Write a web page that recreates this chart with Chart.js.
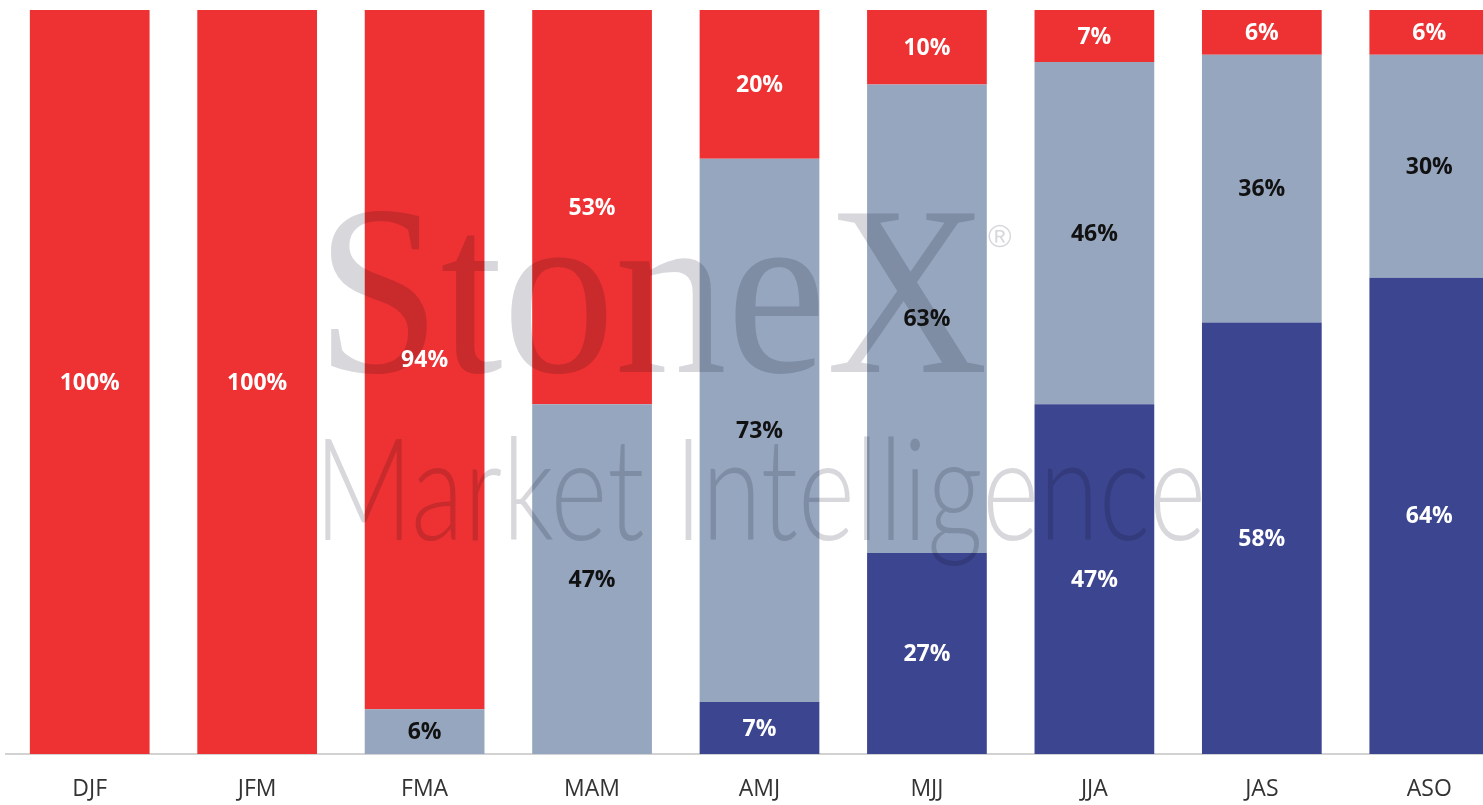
<!DOCTYPE html>
<html>
<head>
<meta charset="utf-8">
<script src="https://cdn.jsdelivr.net/npm/chart.js@4.4.1/dist/chart.umd.min.js"></script>
<style>
  html, body { margin: 0; padding: 0; background: #ffffff; overflow: hidden; }
  #wrap { width: 1483px; height: 805px; overflow: hidden; position: relative; }
  canvas { display: block; }
</style>
</head>
<body>
<div id="wrap"><canvas id="c" width="1513" height="805"></canvas></div>
<script>
const categories = ['DJF', 'JFM', 'FMA', 'MAM', 'AMJ', 'MJJ', 'JJA', 'JAS', 'ASO'];
const darkBlueValues = [0, 0, 0, 0, 7, 27, 47, 58, 64];
const greyBlueValues = [0, 0, 6, 47, 73, 63, 46, 36, 30];
const redValues      = [100, 100, 94, 53, 20, 10, 7, 6, 6];

const labelColors = ['#ffffff', '#111111', '#ffffff'];

const watermarkPlugin = {
  id: 'watermark',
  afterDatasetsDraw(chart) {
    const ctx = chart.ctx;
    ctx.save();
    ctx.globalCompositeOperation = 'multiply';
    ctx.fillStyle = 'rgb(216,216,220)';
    ctx.textAlign = 'left';
    ctx.textBaseline = 'alphabetic';
    ctx.font = '242px "Liberation Serif", "DejaVu Serif", serif';
    ctx.fillText('StoneX', 316, 372, 672);
    ctx.font = '32px "Liberation Sans", Arial, sans-serif';
    ctx.fillText('®', 988, 247);
    ctx.font = '300 142px Lato, "Open Sans", "Liberation Sans", sans-serif';
    ctx.fillText('Market Intelligence', 314, 540, 892);
    ctx.restore();
  }
};

const segmentLabels = {
  id: 'segmentLabels',
  afterDraw(chart) {
    const ctx = chart.ctx;
    ctx.save();
    ctx.font = '700 23px "Open Sans", "Liberation Sans", Arial, sans-serif';
    ctx.textAlign = 'center';
    ctx.textBaseline = 'middle';
    chart.data.datasets.forEach((ds, di) => {
      const meta = chart.getDatasetMeta(di);
      meta.data.forEach((bar, i) => {
        const v = ds.data[i];
        if (!v) return;
        const y = (bar.y + bar.base) / 2;
        ctx.fillStyle = labelColors[di];
        ctx.fillText(v + '%', bar.x, y + 1);
      });
    });
    ctx.restore();
  }
};

new Chart(document.getElementById('c'), {
  type: 'bar',
  data: {
    labels: categories,
    datasets: [
      { label: 'Dark', data: darkBlueValues, backgroundColor: '#3c4590' },
      { label: 'Grey', data: greyBlueValues, backgroundColor: '#95a6be' },
      { label: 'Red', data: redValues, backgroundColor: '#ee3133' }
    ]
  },
  options: {
    responsive: false,
    animation: false,
    devicePixelRatio: 1,
    categoryPercentage: 1,
    barPercentage: 0.715,
    layout: { padding: { top: 10, left: 6, right: 0, bottom: 0 } },
    plugins: { legend: { display: false }, tooltip: { enabled: false } },
    scales: {
      x: {
        stacked: true,
        grid: { display: false, drawTicks: false },
        border: { display: true, color: '#d2d2d2', width: 2 },
        ticks: {
          color: '#333333',
          padding: 22,
          font: { family: '"Open Sans", "Liberation Sans", sans-serif', size: 23 }
        },
        afterFit(scale) { scale.height = 51; }
      },
      y: {
        stacked: true,
        display: false,
        min: 0,
        max: 100
      }
    }
  },
  plugins: [watermarkPlugin, segmentLabels]
});
</script>
</body>
</html>
